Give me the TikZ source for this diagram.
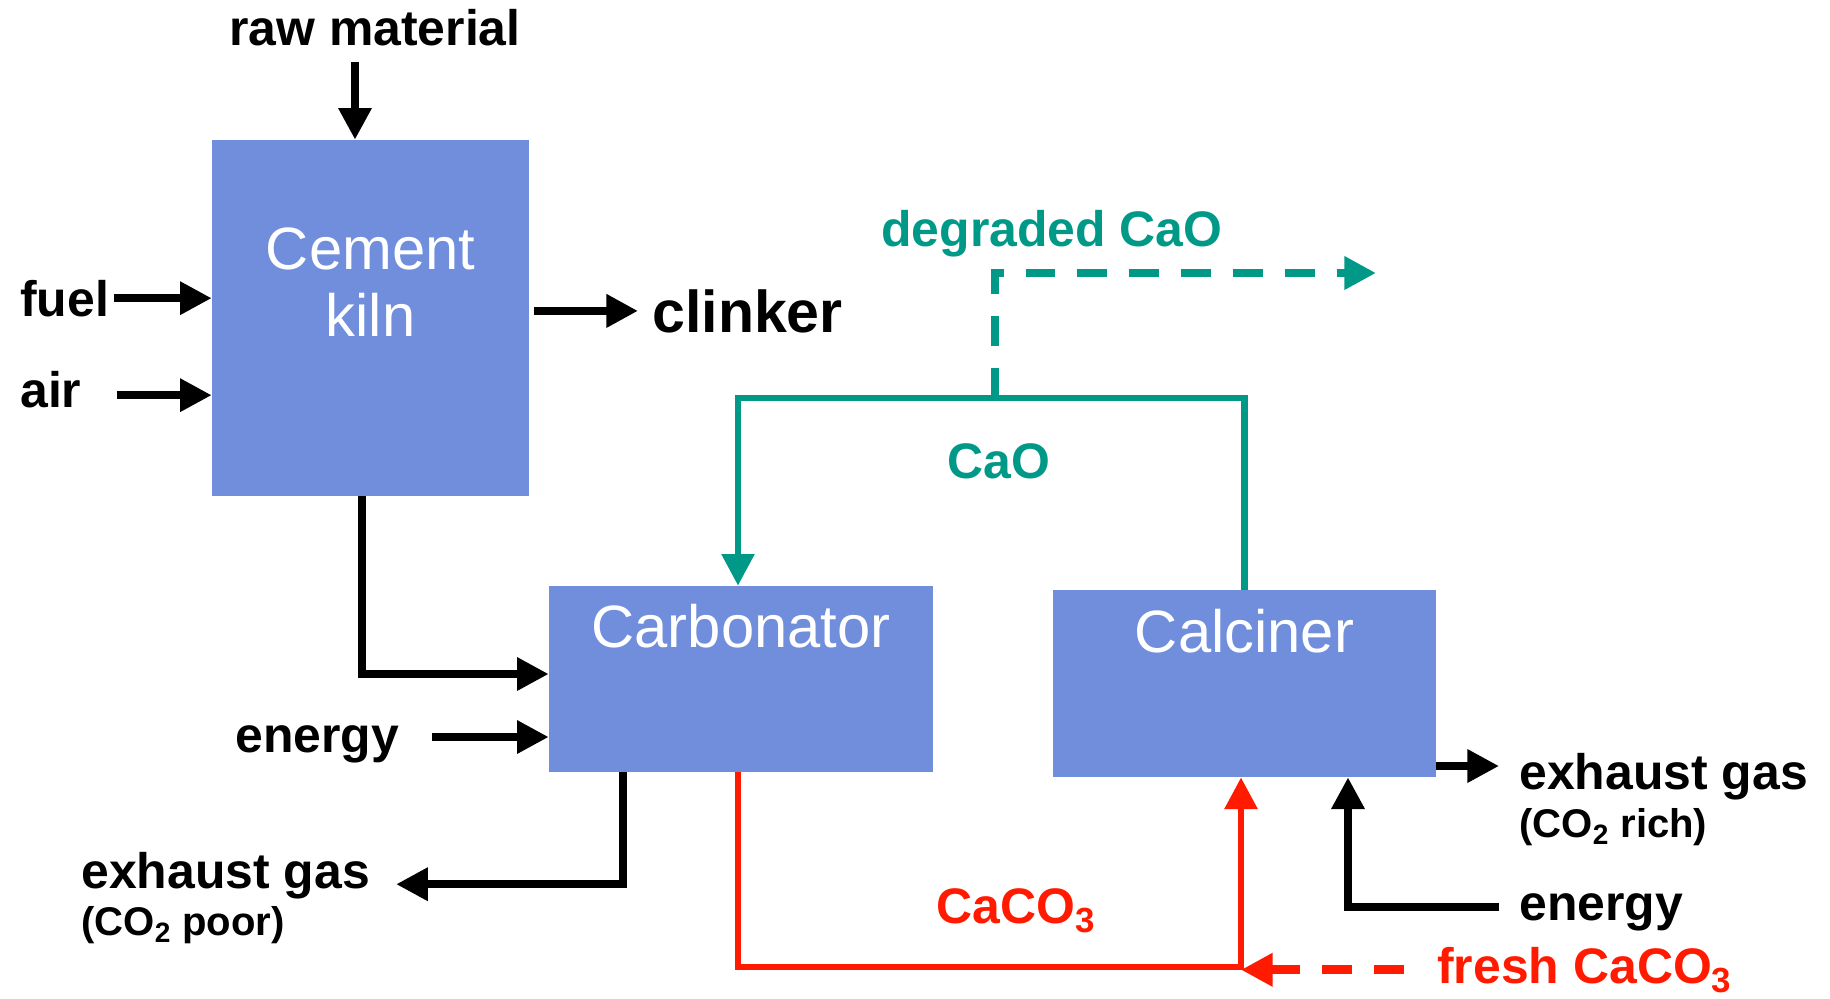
\documentclass[tikz,border=0pt]{standalone}
\usepackage{fontspec}
\setmainfont{Liberation Sans}
\usetikzlibrary{arrows.meta,positioning,calc}
\definecolor{clrBox}{RGB}{112,142,220}
\definecolor{clrT}{RGB}{0,153,136}
\definecolor{clrR}{RGB}{255,26,0}
\tikzset{
  unit/.style={rectangle,fill=clrBox,inner sep=0pt},
  unitname/.style={text=white,font=\fontsize{34}{38.1}\selectfont,
    align=center,inner sep=0pt},
  lbl/.style={font=\bfseries\fontsize{28.4}{32}\selectfont,inner sep=0pt},
  sublbl/.style={font=\bfseries\fontsize{22.8}{26}\selectfont,inner sep=0pt},
  flow/.style={line width=4.3pt,-{Triangle[length=18pt,width=18pt]}},
  flowT/.style={flow,line width=3.8pt,color=clrT},
  flowR/.style={flow,line width=3.8pt,color=clrR},
  flowdash/.style={line width=5pt,dash pattern=on 17pt off 12.5pt}
}

\begin{document}
\begin{tikzpicture}[x=0.2mm,y=-0.2mm]
\useasboundingbox (0,0) rectangle (1830,998);

% Process units
\node[unit,minimum width=63.4mm,minimum height=71.2mm,
  label={[unitname,anchor=north,yshift=-17.6mm]north:Cement\\kiln}]
  (kiln) at (370.5,318) {};
\node[unit,minimum width=76.8mm,minimum height=37.2mm,
  label={[unitname,anchor=north,yshift=-3.6mm]north:Carbonator}]
  (carb) at (741,679) {};
\node[unit,minimum width=76.6mm,minimum height=37.4mm,
  label={[unitname,anchor=north,yshift=-3.8mm]north:Calciner}]
  (calc) at (1244.5,683.5) {};

% Stream labels
\node[lbl,anchor=base] (rawmat) at (375,45) {raw material};
\node[lbl,anchor=base west] (fuel) at (20,316) {fuel};
\node[lbl,anchor=base west] (air) at (20,407) {air};
\node[lbl,anchor=base west,font=\bfseries\fontsize{33.6}{38}\selectfont]
  (clinker) at (652,332) {clinker};
\node[lbl,anchor=base west] (energyA) at (235,752) {energy};
\node[lbl,anchor=base west] (exhaustA) at (81,888) {exhaust gas};
\node[sublbl,anchor=base west] (poorA) at (81,935) {(CO\textsubscript{2} poor)};
\node[lbl,anchor=base west] (energyB) at (1519,920) {energy};
\node[lbl,anchor=base west] (exhaustB) at (1519,789) {exhaust gas};
\node[sublbl,anchor=base west] (richB) at (1519,837) {(CO\textsubscript{2} rich)};
\node[lbl,anchor=base west,text=clrT] (degraded) at (881,246) {degraded CaO};
\node[lbl,anchor=base west,text=clrT] (cao) at (947,478) {CaO};
\node[lbl,anchor=base west,text=clrR] (caco) at (936,923) {CaCO\textsubscript{3}};
\node[lbl,anchor=base west,text=clrR] (fresh) at (1437,983) {fresh CaCO\textsubscript{3}};

\coordinate (split) at (995,398);
\coordinate (degout) at (1376,273);
\coordinate (mix) at (1241,967);

% Kiln streams
\draw[flow,shorten <=3.2mm] ([xshift=-3.1mm]kiln.north |- rawmat.south)
  -- ([xshift=-3.1mm]kiln.north);
\draw[flow,shorten <=1mm] (fuel.east) -- (fuel.east -| kiln.west);
\draw[flow,shorten <=7mm] ([yshift=-1.2mm]air.east)
  -- ([yshift=-1.2mm]air.east -| kiln.west);
\draw[flow,line width=5pt,shorten <=1mm,shorten >=2.8mm]
  (kiln.east |- clinker.west) -- (clinker.west);
\draw[flow] ([xshift=-1.7mm]kiln.south) |- ([yshift=1mm]carb.west);

% Carbonator streams
\draw[flow] ([xshift=6.6mm,yshift=-11.6mm]carb.west -| energyA.east)
  -- ([yshift=-11.6mm]carb.west);
\draw[flow] ([xshift=-23.6mm]carb.south)
  |- ([xshift=5.2mm,yshift=-1.8mm]exhaustA.east);

% CaO loop and purge
\draw[flowT] (calc.north) |- (split) -| ([xshift=-0.6mm]carb.north);
\draw[flowT,flowdash] (split) |- (degout);

% CaCO3 loop and make-up
\draw[flowR] ([xshift=-0.6mm]carb.south) |- (mix) -- (mix |- calc.south);
\draw[flowR,flowdash,shorten <=6.6mm] (fresh.west) -- (fresh.west -| mix);

% Calciner streams
\draw[flow,shorten <=4mm] ([yshift=1mm]energyB.west)
  -| ([xshift=20.7mm]calc.south);
\draw[flow,shorten >=4mm] ([yshift=-16.5mm]calc.east)
  -- ([yshift=-16.5mm]calc.east -| exhaustB.west);
\end{tikzpicture}
\end{document}
